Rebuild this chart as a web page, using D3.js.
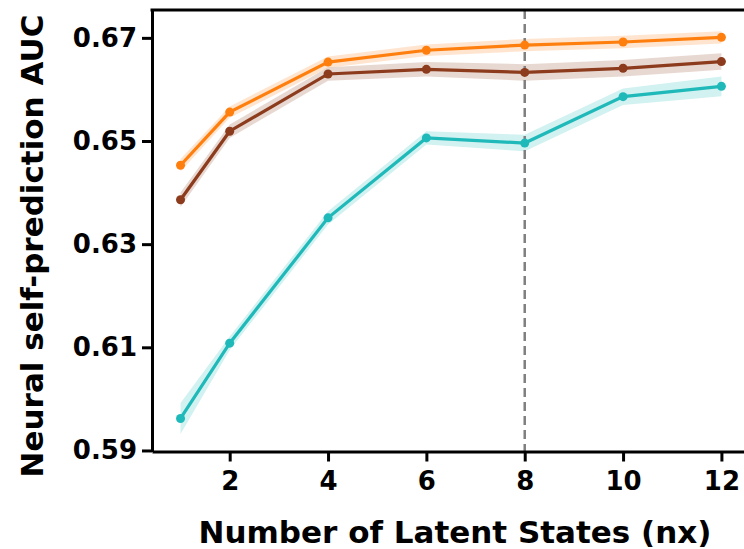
<!DOCTYPE html>
<html>
<head>
  <script src="https://d3js.org/d3.v7.min.js"></script>
  <style>
    body { margin: 0; background: #fff; }
    svg { font-family: "DejaVu Sans", Verdana, sans-serif; font-weight: bold; }
  </style>
</head>
<body>
  <svg width="744" height="549"></svg>
  <script>
    // latent state counts (x)
    const nx = [1, 2, 4, 6, 8, 10, 12];

    // mean AUC per model
    const orangeMean = [0.6453, 0.6556, 0.6653, 0.6676, 0.6686, 0.6692, 0.6701];
    const brownMean  = [0.6386, 0.6519, 0.6630, 0.6639, 0.6633, 0.6641, 0.6654];
    const tealMean   = [0.5962, 0.6108, 0.6351, 0.6506, 0.6496, 0.6586, 0.6606];

    // shaded band half-widths (sem)
    const orangeErr = [0.0012, 0.0011, 0.0011, 0.0011, 0.0012, 0.0012, 0.0012];
    const brownErr  = [0.0014, 0.0013, 0.0013, 0.0014, 0.0016, 0.0016, 0.0016];
    const tealErr   = [0.0030, 0.0013, 0.0013, 0.0013, 0.0016, 0.0016, 0.0019];

    const yTicks = [0.59, 0.61, 0.63, 0.65, 0.67];
    const xTicks = [2, 4, 6, 8, 10, 12];
    const markedNx = 8;

    const series = [
      { mean: orangeMean, err: orangeErr, color: "#ff7f0e" },
      { mean: brownMean,  err: brownErr,  color: "#8c3b1c" },
      { mean: tealMean,   err: tealErr,   color: "#1fb9b9" }
    ];

    const svg = d3.select("svg");
    const plotL = 152, plotR = 746, plotT = 10, plotB = 451.5;

    const x = d3.scaleLinear().domain([0.42, 12.5]).range([plotL, plotR]);
    const y = d3.scaleLinear().domain([0.5898, 0.6754]).range([plotB, plotT]);

    // bands
    series.forEach(s => {
      const area = d3.area()
        .x((d, i) => x(nx[i]))
        .y0((d, i) => y(s.mean[i] - s.err[i]))
        .y1((d, i) => y(s.mean[i] + s.err[i]));
      svg.append("path")
        .attr("d", area(s.mean))
        .attr("fill", s.color)
        .attr("fill-opacity", 0.2);
    });

    // dashed reference line at nx = 8
    svg.append("line")
      .attr("x1", x(markedNx)).attr("x2", x(markedNx))
      .attr("y1", plotT).attr("y2", plotB)
      .attr("stroke", "#7f7f7f")
      .attr("stroke-width", 2.5)
      .attr("stroke-dasharray", "9,5");

    // lines + markers
    series.forEach(s => {
      const line = d3.line().x((d, i) => x(nx[i])).y(d => y(d));
      svg.append("path")
        .attr("d", line(s.mean))
        .attr("fill", "none")
        .attr("stroke", s.color)
        .attr("stroke-width", 3.2);
      svg.selectAll(null)
        .data(s.mean)
        .enter().append("circle")
        .attr("cx", (d, i) => x(nx[i]))
        .attr("cy", d => y(d))
        .attr("r", 4.5)
        .attr("fill", s.color);
    });

    // axes
    const yAxis = svg.append("g")
      .attr("transform", `translate(${plotL},0)`)
      .call(d3.axisLeft(y).tickValues(yTicks).tickFormat(d3.format(".2f")).tickSize(10).tickSizeOuter(0).tickPadding(5));
    const xAxis = svg.append("g")
      .attr("transform", `translate(0,${plotB})`)
      .call(d3.axisBottom(x).tickValues(xTicks).tickSize(10).tickSizeOuter(0).tickPadding(10));

    [yAxis, xAxis].forEach(g => {
      g.select(".domain").attr("stroke", "#000").attr("stroke-width", 3);
      g.selectAll(".tick line").attr("stroke", "#000").attr("stroke-width", 3);
      g.selectAll(".tick text")
        .attr("fill", "#000")
        .style("font-size", "26px")
        .style("font-family", "'DejaVu Sans', sans-serif")
        .style("font-weight", "bold");
    });

    // top spine
    svg.append("line")
      .attr("x1", plotL - 1.5).attr("x2", plotR)
      .attr("y1", plotT).attr("y2", plotT)
      .attr("stroke", "#000").attr("stroke-width", 3);

    // axis titles
    svg.append("text")
      .attr("x", 455).attr("y", 543)
      .attr("text-anchor", "middle")
      .style("font-size", "31px")
      .text("Number of Latent States (nx)");

    svg.append("text")
      .attr("transform", "translate(43,246) rotate(-90)")
      .attr("text-anchor", "middle")
      .style("font-size", "31px")
      .text("Neural self-prediction AUC");
  </script>
</body>
</html>
